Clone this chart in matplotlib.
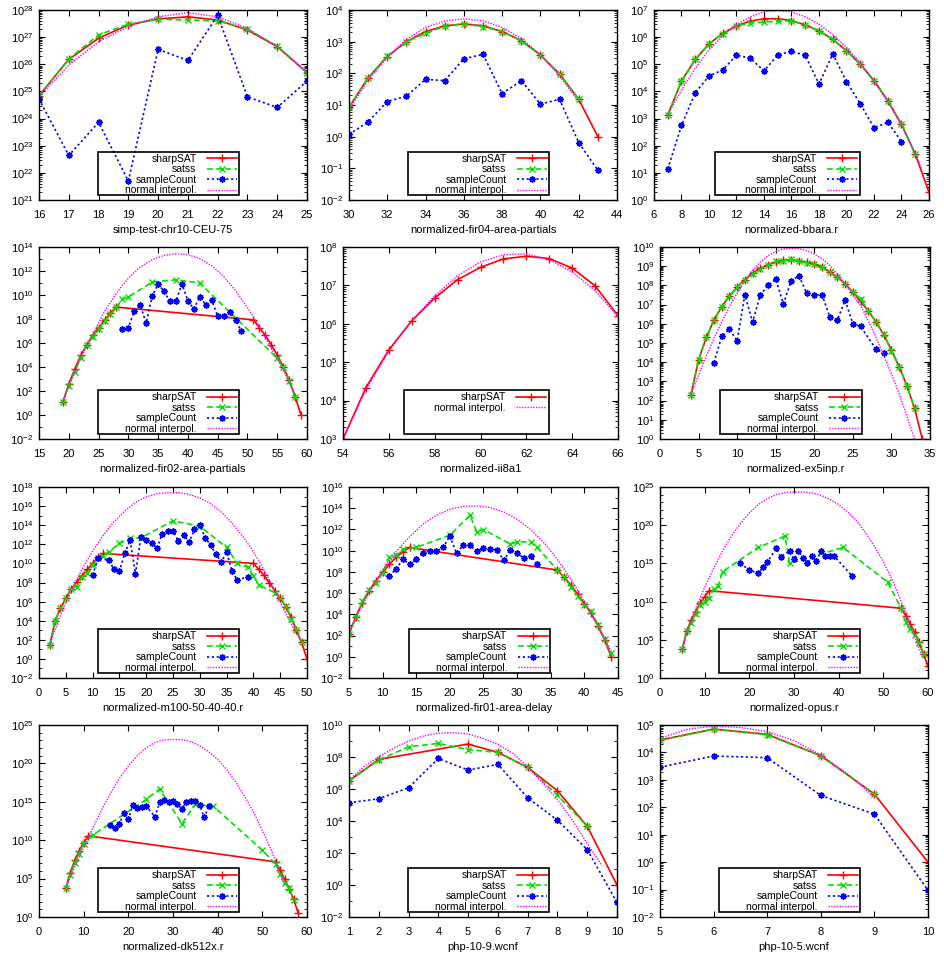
import numpy as np
import matplotlib
matplotlib.use('Agg')
import matplotlib.pyplot as plt
from matplotlib.ticker import FixedLocator, LogFormatterMathtext, NullFormatter, FormatStrFormatter
from matplotlib.patches import Rectangle
from matplotlib.lines import Line2D

plt.rcParams['font.family'] = ['Liberation Sans', 'DejaVu Sans']

# ---------------- data (y values given as log10 of the count) ----------------
# 1 simp-test-chr10-CEU-75
p1_sharp_x = [16, 17, 18, 19, 20, 21, 22, 23, 24, 25]
p1_sharp = [24.84, 26.18, 26.96, 27.45, 27.67, 27.75, 27.63, 27.26, 26.65, 25.69]
p1_satss_x = [16, 17, 18, 19, 20, 21, 22, 23, 24, 25]
p1_satss = [24.84, 26.20, 27.08, 27.48, 27.66, 27.63, 27.60, 27.29, 26.67, 25.69]
p1_sample_x = [16, 17, 18, 19, 20, 21, 22, 23, 24, 25]
p1_sample = [24.72, 22.64, 23.86, 21.70, 26.55, 26.14, 27.80, 24.80, 24.41, 25.38]
p1_norm_x = [16, 17, 18, 19, 20, 21, 22, 23, 24, 25]
p1_norm = [24.80, 25.97, 26.83, 27.39, 27.75, 27.90, 27.75, 27.32, 26.65, 25.73]

# 2 normalized-fir04-area-partials
p2_sharp_x = [30, 31, 32, 33, 34, 35, 36, 37, 38, 39, 40, 41, 42, 43]
p2_sharp = [0.93, 1.86, 2.53, 3.0, 3.32, 3.5, 3.56, 3.5, 3.32, 3.03, 2.58, 1.98, 1.18, 0.0]
p2_satss_x = [30, 31, 32, 33, 34, 35, 36, 37, 38, 39, 40, 41, 42]
p2_satss = [0.93, 1.86, 2.55, 3.0, 3.26, 3.49, 3.56, 3.47, 3.32, 3.03, 2.58, 1.98, 1.18]
p2_sample_x = [30, 31, 32, 33, 34, 35, 36, 37, 38, 39, 40, 41, 42, 43]
p2_sample = [0.07, 0.47, 1.11, 1.28, 1.81, 1.77, 2.46, 2.6, 1.36, 1.77, 1.03, 1.18, -0.19, -1.06]
p2_norm_x = [30, 31, 32, 33, 34, 35, 36, 37, 38, 39, 40, 41, 42]
p2_norm = [0.84, 1.79, 2.5, 3.07, 3.45, 3.65, 3.72, 3.66, 3.45, 3.1, 2.58, 1.92, 1.1]

# 3 normalized-bbara.r
p3_sharp_x = list(range(7, 27))
p3_sharp = [3.13, 4.38, 5.18, 5.75, 6.14, 6.42, 6.59, 6.68, 6.68, 6.61, 6.45, 6.23, 5.92, 5.5,
            5.0, 4.4, 3.66, 2.79, 1.69, 0.28]
p3_satss_x = list(range(7, 26))
p3_satss = [3.13, 4.38, 5.18, 5.75, 6.12, 6.42, 6.51, 6.56, 6.58, 6.61, 6.45, 6.23, 5.92, 5.5,
            5.0, 4.4, 3.66, 2.79, 1.69]
p3_sample_x = list(range(7, 25))
p3_sample = [1.14, 2.75, 3.95, 4.57, 4.79, 5.34, 5.22, 4.76, 5.34, 5.48, 5.33, 4.27, 5.38, 4.36,
             3.55, 2.65, 2.87, 2.15]
p3_norm_x = [7, 8, 9, 10, 11, 12, 13, 14, 15, 16, 17, 18, 19, 20, 21, 22, 23, 24, 25, 25.5]
p3_norm = [3.13, 4.05, 4.85, 5.53, 6.04, 6.46, 6.75, 6.93, 6.98, 6.93, 6.75, 6.48, 6.1, 5.62,
           5.06, 4.38, 3.62, 2.76, 1.72, 1.1]

# 4 normalized-fir02-area-partials
p4_sharp_x = [19, 20, 21, 22, 23, 24, 25, 26, 27, 28, 51, 52, 53, 54, 55, 56, 57, 58, 59]
p4_sharp = [1.06, 2.59, 3.82, 4.96, 5.85, 6.63, 7.24, 7.91, 8.52, 8.99,
            7.93, 7.29, 6.63, 5.85, 5.01, 4.04, 2.93, 1.53, 0.0]
p4_satss_x = [19, 20, 21, 22, 23, 24, 25, 26, 27, 28, 29, 30, 34, 38, 42, 55, 56, 57, 58]
p4_satss = [1.06, 2.45, 3.62, 4.79, 5.85, 6.54, 7.15, 7.85, 8.41, 8.96, 9.69, 9.83,
            11.08, 11.27, 11.0, 4.73, 3.96, 2.87, 1.53]
p4_sample_x = list(range(29, 50))
p4_sample = [7.16, 7.24, 8.69, 9.13, 7.66, 9.91, 10.91, 10.3, 9.46, 9.52, 10.91, 9.52, 8.85,
             9.85, 9.19, 9.55, 8.27, 8.27, 8.57, 7.91, 6.97]
p4_norm_x = [19, 20, 22, 24, 26, 28, 30, 32, 34, 36, 38, 40, 42, 44, 46, 48, 50, 52, 54, 56, 58]
p4_norm = [1.1, 2.37, 4.73, 6.68, 8.63, 10.16, 11.41, 12.33, 12.94, 13.3, 13.44, 13.36, 13.03,
           12.44, 11.55, 10.36, 8.96, 7.38, 5.57, 3.76, 1.67]

# 5 normalized-ii8a1
p5_sharp_x = list(range(54, 67))
p5_sharp = [3.0, 4.34, 5.32, 6.08, 6.67, 7.15, 7.47, 7.69, 7.76, 7.70, 7.45, 6.99, 6.21]
p5_norm_x = list(range(54, 67))
p5_norm = [3.0, 4.28, 5.28, 6.08, 6.73, 7.25, 7.61, 7.80, 7.82, 7.67, 7.35, 6.86, 6.19]

# 6 normalized-ex5inp.r
p6_sharp_x = list(range(4, 35))
p6_sharp = [2.3, 4.12, 5.29, 6.19, 6.9, 7.44, 7.91, 8.3, 8.64, 8.89, 9.08, 9.22, 9.3, 9.32,
            9.29, 9.2, 9.11, 8.96, 8.7, 8.42, 8.09, 7.65, 7.17, 6.68, 6.09, 5.43, 4.64, 3.77,
            2.78, 1.6, 0.0]
p6_satss_x = list(range(4, 34))
p6_satss = [2.3, 4.12, 5.29, 6.19, 6.9, 7.44, 7.91, 8.3, 8.6, 8.85, 9.08, 9.25, 9.29, 9.36,
            9.25, 9.18, 9.11, 8.96, 8.7, 8.42, 8.09, 7.65, 7.3, 6.68, 6.09, 5.48, 4.57, 3.77,
            2.78, 1.6]
p6_sample_x = [7, 8, 9, 10, 11, 12, 13, 14, 15, 16, 17, 18, 19, 20, 21, 22, 23, 24, 25, 26, 28, 29]
p6_sample = [3.98, 5.34, 5.72, 5.11, 7.51, 6.09, 7.5, 8.0, 8.33, 7.04, 8.24, 8.5, 7.62, 7.5,
             7.51, 6.38, 6.21, 7.23, 6.0, 5.86, 4.68, 4.47]
p6_norm_x = list(range(4, 34))
p6_norm = [2.3, 3.34, 4.3, 5.25, 6.09, 6.9, 7.6, 8.24, 8.77, 9.22, 9.55, 9.77, 9.9, 9.93,
           9.91, 9.81, 9.63, 9.39, 9.04, 8.59, 8.07, 7.5, 6.95, 6.15, 5.3, 4.35, 3.4, 2.35,
           1.2, 0.0]

# 7 normalized-m100-50-40-40.r
p7_sharp_x = [2, 3, 4, 5, 6, 7, 8, 9, 10, 11, 12, 40, 41, 42, 43, 44, 45, 46, 47, 48, 49, 50]
p7_sharp = [1.41, 3.98, 5.3, 6.35, 7.32, 8.02, 8.68, 9.37, 10.0, 10.63, 11.04,
            10.0, 9.37, 8.75, 7.91, 7.15, 6.35, 5.48, 4.43, 3.04, 1.72, 0.0]
p7_satss_x = [2, 3, 4, 5, 6, 7, 8, 9, 10, 11, 12, 13, 15, 17, 19, 25, 30, 35, 37, 39, 40, 41,
              44, 45, 46, 47, 48, 49]
p7_satss = [1.41, 3.98, 5.3, 6.35, 7.32, 7.57, 8.54, 8.96, 9.83, 10.52, 10.77, 11.22,
            12.09, 12.61, 12.68, 14.45, 13.9, 11.67, 10.0, 9.58, 8.68, 7.74,
            6.94, 6.35, 5.55, 4.23, 3.04, 1.72]
p7_sample_x = [10, 11] + list(range(13, 38)) + [39]
p7_sample = [8.78, 10.52, 10.35, 9.37, 9.23, 11.04, 12.43, 8.89, 12.78, 12.43, 12.16, 11.57,
             13.13, 13.37, 13.37, 12.36, 12.96, 12.23, 13.55, 13.97, 12.71, 11.91, 10.97,
             10.14, 11.22, 9.2, 8.26, 8.61]
p7_norm_x = [2, 3, 4, 5, 6, 8, 10, 12, 14, 16, 18, 20, 22, 24, 26, 28, 30, 32, 34, 36, 38, 40,
             42, 44, 46, 48, 49]
p7_norm = [1.41, 3.04, 4.54, 5.9, 7.15, 9.37, 11.29, 12.96, 14.35, 15.5, 16.37, 16.96, 17.3,
           17.41, 17.41, 17.23, 16.85, 16.26, 15.39, 14.24, 12.85, 11.22, 9.3, 7.15, 4.78,
           2.7, 1.65]

# 8 normalized-fir01-area-delay
p8_sharp_x = [5, 6, 7, 8, 9, 10, 11, 12, 13, 14, 36, 37, 38, 39, 40, 41, 42, 43, 44]
p8_sharp = [2.16, 3.79, 5.1, 6.23, 7.17, 7.95, 8.71, 9.36, 9.9, 10.3,
            8.17, 7.48, 6.76, 5.92, 4.98, 4.1, 2.94, 1.6, 0.0]
p8_satss_x = [5, 6, 7, 8, 9, 10, 11, 12, 13, 15, 20, 23, 24, 25, 29, 30, 32, 33,
              36, 37, 38, 39, 40, 41, 42, 43, 44]
p8_satss = [2.16, 3.63, 5.26, 6.29, 6.92, 7.92, 9.36, 9.58, 10.15, 10.3, 11.46, 13.34, 11.77,
            11.99, 10.61, 10.83, 10.83, 10.3, 8.17, 7.48, 6.61, 5.73, 4.89, 4.35, 3.0, 1.66, 0.34]
p8_sample_x = list(range(11, 34))
p8_sample = [7.61, 8.27, 9.17, 8.74, 9.17, 9.8, 9.93, 9.93, 10.3, 11.4, 9.74, 10.55, 10.49,
             9.96, 10.24, 10.15, 10.05, 9.11, 10.05, 9.8, 9.27, 9.49, 8.74]
p8_norm_x = [5, 6, 7, 8, 9, 10, 12, 14, 16, 18, 20, 22, 24, 26, 28, 30, 32, 34, 36, 38, 40, 42,
             43, 44]
p8_norm = [2.16, 3.63, 4.89, 6.04, 7.08, 8.17, 9.9, 11.3, 12.49, 13.34, 13.9, 14.18, 14.22,
           14.06, 13.65, 12.96, 11.99, 10.74, 9.17, 7.3, 5.2, 3.0, 1.75, 0.5]

# 9 normalized-opus.r
p9_sharp_x = [5, 6, 7, 8, 9, 10, 11, 54, 55, 56, 57, 58, 59, 60]
p9_sharp = [3.83, 6.17, 7.61, 8.7, 9.78, 10.65, 11.43, 9.13, 8.17, 7.09, 6.0, 4.65, 3.17, 1.52]
p9_satss_x = [5, 6, 7, 8, 9, 10, 11, 12, 13, 14, 22, 28, 29, 41, 51, 54, 55, 56, 57, 58, 59]
p9_satss = [3.83, 6.17, 7.17, 8.39, 9.6, 9.95, 10.5, 11.65, 12.04, 13.91, 17.09, 18.57, 15.0,
            17.09, 12.52, 9.13, 7.3, 6.39, 5.57, 4.57, 3.17]
p9_sample_x = [18, 20, 22, 23, 24, 26, 27, 29, 30, 31, 32, 33, 34, 35, 36, 37, 38, 39, 43]
p9_sample = [15.0, 14.13, 13.7, 14.48, 15.13, 16.96, 15.87, 16.61, 15.57, 16.61, 15.74, 15.0,
             16.0, 15.3, 16.57, 15.96, 15.96, 15.96, 13.35]
p9_norm_x = [5, 6, 8, 10, 12, 14, 16, 18, 20, 22, 24, 26, 28, 30, 32, 34, 36, 38, 40, 42, 44,
             46, 48, 50, 52, 54, 56, 58, 59]
p9_norm = [3.7, 5.87, 9.13, 11.87, 14.35, 16.61, 18.57, 20.22, 21.61, 22.7, 23.48, 24.0,
           24.26, 24.35, 24.35, 24.22, 23.91, 23.39, 22.7, 21.74, 20.57, 19.04, 17.26, 15.22,
           12.83, 10.0, 6.96, 3.91, 2.6]

# 10 normalized-dk512x.r
p10_sharp_x = [6, 7, 8, 9, 10, 11, 53, 54, 55, 56, 57, 58]
p10_sharp = [3.78, 5.74, 7.39, 8.61, 9.7, 10.57, 7.17, 6.09, 4.91, 3.7, 2.3, 0.57]
p10_satss_x = [6, 7, 8, 9, 10, 12, 24, 27, 32, 35, 39, 50, 53, 54, 55, 56, 57]
p10_satss = [3.78, 5.52, 7.04, 8.26, 9.57, 10.65, 15.3, 16.65, 12.17, 14.65, 14.43, 8.7,
             6.87, 5.65, 4.43, 3.78, 2.26]
p10_sample_x = [16, 17, 18, 19, 20, 21, 22, 23, 24, 26, 27, 28, 29, 30, 31, 32, 33, 34, 35,
                36, 37, 38]
p10_sample = [12.04, 11.65, 12.17, 13.48, 12.74, 14.57, 14.22, 14.26, 14.43, 13.04, 14.91,
              15.22, 15.0, 15.09, 14.65, 14.09, 15.0, 15.09, 15.13, 14.57, 12.96, 14.43]
p10_norm_x = [6, 8, 10, 12, 14, 16, 18, 20, 22, 24, 26, 28, 30, 32, 34, 36, 38, 40, 42, 44,
              46, 48, 50, 52, 54, 55]
p10_norm = [3.78, 6.52, 9.13, 11.52, 13.91, 16.09, 18.04, 19.65, 21.0, 22.04, 22.74, 23.04,
            23.13, 23.09, 22.83, 22.3, 21.52, 20.52, 19.22, 17.61, 15.74, 13.7, 11.3, 8.7,
            5.65, 4.13]

# 11 php-10-9.wcnf
p11_sharp_x = [1, 2, 5, 6, 7, 8, 9, 10]
p11_sharp = [6.51, 7.85, 8.81, 8.29, 7.35, 5.89, 3.67, 0.0]
p11_satss_x = [1, 2, 3, 4, 5, 6, 7, 8, 9]
p11_satss = [6.51, 7.81, 8.64, 8.85, 8.46, 8.29, 7.35, 5.62, 3.67]
p11_sample_x = [1, 2, 3, 4, 5, 6, 7, 8, 9, 10]
p11_sample = [5.14, 5.39, 6.08, 7.91, 7.18, 7.54, 5.45, 4.05, 2.21, -1.09]
p11_norm_x = [1, 1.5, 2, 2.5, 3, 3.5, 4, 4.5, 5, 5.5, 6, 6.5, 7, 7.5, 8, 8.5, 9, 9.5]
p11_norm = [6.56, 7.39, 8.02, 8.54, 9.0, 9.31, 9.48, 9.52, 9.44, 9.16, 8.79, 8.23, 7.39,
            6.39, 5.34, 4.05, 2.59, 1.2]

# 12 php-10-5.wcnf
p12_sharp_x = [5, 6, 7, 8, 9, 10]
p12_sharp = [4.45, 4.85, 4.66, 3.88, 2.48, 0.0]
p12_satss_x = [5, 6, 7, 8, 9]
p12_satss = [4.45, 4.85, 4.64, 3.88, 2.48]
p12_sample_x = [5, 6, 7, 8, 9, 10]
p12_sample = [3.46, 3.87, 3.81, 2.43, 1.75, -1.03]
p12_norm_x = [5, 5.5, 6, 6.5, 7, 7.5, 8, 8.5, 9]
p12_norm = [4.51, 4.84, 4.96, 4.91, 4.76, 4.43, 3.91, 3.22, 2.37]

series_names = ['sharpSAT', 'satss', 'sampleCount', 'normal interpol.']
panel_names = ['simp-test-chr10-CEU-75', 'normalized-fir04-area-partials', 'normalized-bbara.r',
               'normalized-fir02-area-partials', 'normalized-ii8a1', 'normalized-ex5inp.r',
               'normalized-m100-50-40-40.r', 'normalized-fir01-area-delay', 'normalized-opus.r',
               'normalized-dk512x.r', 'php-10-9.wcnf', 'php-10-5.wcnf']

# ---------------- layout / styling ----------------
W, H = 945, 959
fig = plt.figure(figsize=(W / 100, H / 100), dpi=100)

styles = {
    'sharpSAT': dict(color='#ff0000', ls='-', marker='+', ms=6, mew=1.0, lw=1.2),
    'satss': dict(color='#00e000', ls=(0, (3.5, 2.0)), marker='x', ms=4.5, mew=1.0, lw=1.2),
    'sampleCount': dict(color='#0000ff', ls=(0, (1.3, 1.6)), marker=(8, 2, 0), ms=4.5, mew=1.1, lw=1.2),
    'normal interpol.': dict(color='#ff00ff', ls=(0, (1.0, 1.0)), lw=1.0),
}

def S(*pairs):
    return list(pairs)

panels = [
    dict(pos=(39, 10, 307, 200), xlim=(16, 25), xstep=1, ylog=(21, 28), ystep=1,
         data=S(('sharpSAT', p1_sharp_x, p1_sharp), ('satss', p1_satss_x, p1_satss),
                ('sampleCount', p1_sample_x, p1_sample), ('normal interpol.', p1_norm_x, p1_norm))),
    dict(pos=(349, 10, 617, 200), xlim=(30, 44), xstep=2, ylog=(-2, 4), ystep=1,
         data=S(('sharpSAT', p2_sharp_x, p2_sharp), ('satss', p2_satss_x, p2_satss),
                ('sampleCount', p2_sample_x, p2_sample), ('normal interpol.', p2_norm_x, p2_norm))),
    dict(pos=(654, 10, 929, 200), xlim=(6, 26), xstep=2, ylog=(0, 7), ystep=1,
         data=S(('sharpSAT', p3_sharp_x, p3_sharp), ('satss', p3_satss_x, p3_satss),
                ('sampleCount', p3_sample_x, p3_sample), ('normal interpol.', p3_norm_x, p3_norm))),
    dict(pos=(39, 247, 307, 439), xlim=(15, 60), xstep=5, ylog=(-2, 14), ystep=2,
         data=S(('sharpSAT', p4_sharp_x, p4_sharp), ('satss', p4_satss_x, p4_satss),
                ('sampleCount', p4_sample_x, p4_sample), ('normal interpol.', p4_norm_x, p4_norm))),
    dict(pos=(343, 247, 618, 439), xlim=(54, 66), xstep=2, ylog=(3, 8), ystep=1,
         data=S(('sharpSAT', p5_sharp_x, p5_sharp), ('normal interpol.', p5_norm_x, p5_norm))),
    dict(pos=(660, 247, 930, 439), xlim=(0, 35), xstep=5, ylog=(0, 10), ystep=1,
         data=S(('sharpSAT', p6_sharp_x, p6_sharp), ('satss', p6_satss_x, p6_satss),
                ('sampleCount', p6_sample_x, p6_sample), ('normal interpol.', p6_norm_x, p6_norm))),
    dict(pos=(39, 487, 307, 678), xlim=(0, 50), xstep=5, ylog=(-2, 18), ystep=2,
         data=S(('sharpSAT', p7_sharp_x, p7_sharp), ('satss', p7_satss_x, p7_satss),
                ('sampleCount', p7_sample_x, p7_sample), ('normal interpol.', p7_norm_x, p7_norm))),
    dict(pos=(349, 487, 618, 678), xlim=(5, 45), xstep=5, ylog=(-2, 16), ystep=2,
         data=S(('sharpSAT', p8_sharp_x, p8_sharp), ('satss', p8_satss_x, p8_satss),
                ('sampleCount', p8_sample_x, p8_sample), ('normal interpol.', p8_norm_x, p8_norm))),
    dict(pos=(660, 487, 928, 678), xlim=(0, 60), xstep=10, ylog=(0, 25), ystep=5,
         data=S(('sharpSAT', p9_sharp_x, p9_sharp), ('satss', p9_satss_x, p9_satss),
                ('sampleCount', p9_sample_x, p9_sample), ('normal interpol.', p9_norm_x, p9_norm))),
    dict(pos=(39, 725, 307, 917), xlim=(0, 60), xstep=10, ylog=(0, 25), ystep=5,
         data=S(('sharpSAT', p10_sharp_x, p10_sharp), ('satss', p10_satss_x, p10_satss),
                ('sampleCount', p10_sample_x, p10_sample), ('normal interpol.', p10_norm_x, p10_norm))),
    dict(pos=(349, 725, 617, 917), xlim=(1, 10), xstep=1, ylog=(-2, 10), ystep=2,
         data=S(('sharpSAT', p11_sharp_x, p11_sharp), ('satss', p11_satss_x, p11_satss),
                ('sampleCount', p11_sample_x, p11_sample), ('normal interpol.', p11_norm_x, p11_norm))),
    dict(pos=(660, 725, 928, 917), xlim=(5, 10), xstep=1, ylog=(-2, 5), ystep=1,
         data=S(('sharpSAT', p12_sharp_x, p12_sharp), ('satss', p12_satss_x, p12_satss),
                ('sampleCount', p12_sample_x, p12_sample), ('normal interpol.', p12_norm_x, p12_norm))),
]

for name, p in zip(panel_names, panels):
    l, t, r, b = p['pos']
    ax = fig.add_axes([l / W, 1 - b / H, (r - l) / W, (b - t) / H])
    handles = []
    for sname, xs, ys in p['data']:
        st = styles[sname]
        h, = ax.plot(xs, np.power(10.0, np.array(ys, dtype=float)), label=sname,
                     color=st['color'], ls=st['ls'], lw=st['lw'],
                     marker=st.get('marker', None), ms=st.get('ms', 0), mew=st.get('mew', 1),
                     clip_on=True)
        handles.append(h)
    ax.set_yscale('log')
    y0, y1 = p['ylog']
    ax.set_ylim(10.0 ** y0, 10.0 ** y1)
    ax.set_xlim(*p['xlim'])
    ax.xaxis.set_major_locator(FixedLocator(np.arange(p['xlim'][0], p['xlim'][1] + 0.001, p['xstep'])))
    ax.xaxis.set_major_formatter(FormatStrFormatter('%g'))
    major = [10.0 ** k for k in range(y0, y1 + 1, p['ystep'])]
    ax.yaxis.set_major_locator(FixedLocator(major))
    ax.yaxis.set_major_formatter(LogFormatterMathtext())
    if p['ystep'] == 1:
        minor = [m * 10.0 ** k for k in range(y0, y1) for m in range(2, 10)]
    else:
        minor = [10.0 ** k for k in range(y0, y1 + 1) if (k - y0) % p['ystep'] != 0]
    ax.yaxis.set_minor_locator(FixedLocator(minor))
    ax.yaxis.set_minor_formatter(NullFormatter())
    ax.tick_params(which='both', direction='in', top=True, right=True, labelsize=8)
    ax.tick_params(which='major', length=4, width=0.8)
    ax.tick_params(which='minor', length=2, width=0.6)
    ax.tick_params(axis='x', pad=7)
    ax.tick_params(axis='y', pad=4)
    for sp in ax.spines.values():
        sp.set_linewidth(1.0)
    ax.set_xlabel(name, fontsize=8, labelpad=4)

    labels = [h.get_label() for h in handles]
    while len(handles) < 4:
        handles.append(Line2D([], [], color='none'))
        labels.append(' ')
    ax.legend(handles, labels, loc='upper right', bbox_to_anchor=(0.745, 0.252),
              bbox_transform=ax.transAxes, frameon=False, markerfirst=False, fontsize=7.5,
              handlelength=2.9, handletextpad=1.0, labelspacing=0.05, borderpad=0.15,
              borderaxespad=0)
    ax.add_patch(Rectangle((0.222, 0.026), 0.526, 0.229, transform=ax.transAxes,
                           fill=False, edgecolor='black', lw=1.2, zorder=10))

fig.savefig('out.png', dpi=100)
